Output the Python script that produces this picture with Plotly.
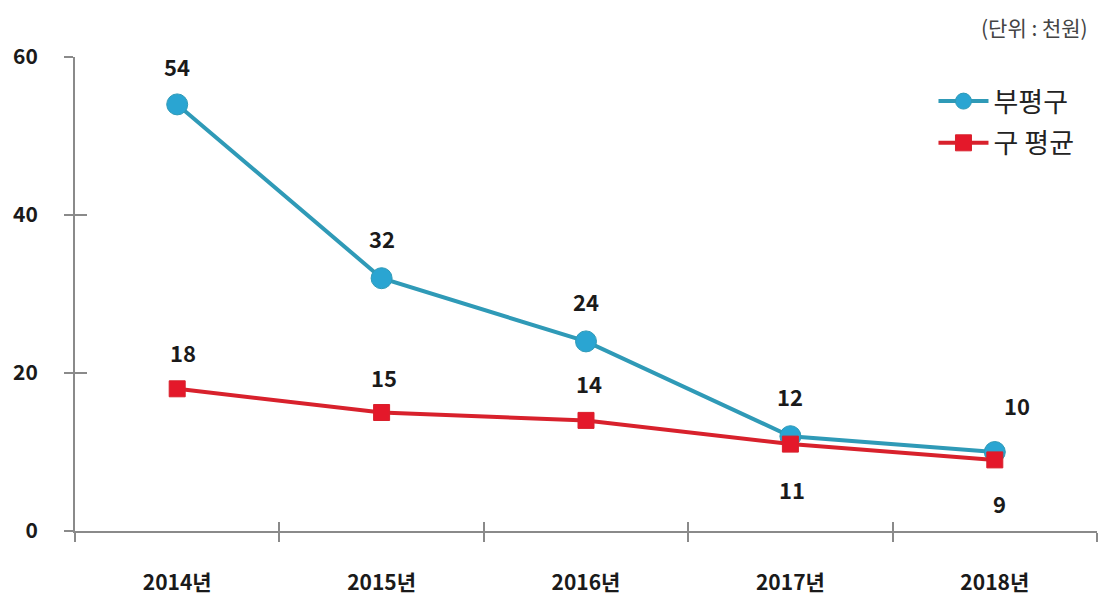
import plotly.graph_objects as go

categories = ["2014년", "2015년", "2016년", "2017년", "2018년"]
bupyeong = [54, 32, 24, 12, 10]
gu_avg = [18, 15, 14, 11, 9]
y_ticks = [0, 20, 40, 60]

FONT = "Noto Sans CJK KR"
BLUE_LINE = "#2f9ab7"
BLUE_MK = "#2aa5d2"
RED_LINE = "#d8212c"
RED_MK = "#e4182a"

fig = go.Figure()
fig.add_trace(go.Scatter(
    x=categories, y=bupyeong, name="부평구", mode="lines+markers",
    line=dict(color=BLUE_LINE, width=4),
    marker=dict(symbol="circle", size=21, color=BLUE_MK, line=dict(color=BLUE_LINE, width=1)),
    legend="legend", cliponaxis=False,
))
fig.add_trace(go.Scatter(
    x=categories, y=gu_avg, name="구 평균", mode="lines+markers",
    line=dict(color=RED_LINE, width=4),
    marker=dict(symbol="square", size=16, color=RED_MK, line=dict(color=RED_LINE, width=1)),
    legend="legend2", cliponaxis=False,
))

# cross-style ticks: second overlaid axes with inside ticks
fig.add_trace(go.Scatter(x=categories, y=bupyeong, yaxis="y2", xaxis="x2",
                         mode="markers", marker=dict(opacity=0), showlegend=False,
                         hoverinfo="skip"))

LABEL_FONT = dict(family=FONT, size=22, color="#1a1a1a", weight="bold")
TICK_FONT = dict(family=FONT, size=21, color="#1a1a1a", weight="bold")
ann = []
blue_shift = [38, 40, 40, 40, 47]
blue_x = [0, 0, 0, 0, 22]
for c, v, s, xs in zip(categories, bupyeong, blue_shift, blue_x):
    ann.append(dict(x=c, y=v, text=str(v), showarrow=False, yshift=s, xshift=xs,
                    font=LABEL_FONT))
red_shift = [37, 36, 37, -45, -43]
red_x = [6, 2, 3, 2, 5]
for c, v, s, xs in zip(categories, gu_avg, red_shift, red_x):
    ann.append(dict(x=c, y=v, text=str(v), showarrow=False, yshift=s, xshift=xs,
                    font=LABEL_FONT))
ann.append(dict(xref="paper", yref="paper", x=1.0, y=1.0, yshift=30, xshift=-7,
                xanchor="right", yanchor="middle", text="(단위 : 천원)", showarrow=False,
                font=dict(family=FONT, size=21, color="#444444")))

# page body has an 8px margin: shrink the figure and margins accordingly
fig.update_layout(
    width=1098, height=588,
    margin=dict(l=67, r=9, t=49, b=65, autoexpand=False),
    paper_bgcolor="white", plot_bgcolor="white",
    font=dict(family=FONT),
    annotations=ann,
    xaxis=dict(type="category", range=[-0.5, 4.5], showgrid=False, zeroline=False,
               showline=True, linecolor="#8a8a8a", linewidth=2, automargin=False,
               ticks="outside", ticklen=9, tickwidth=1.5, tickcolor="#8a8a8a",
               tickson="boundaries", ticklabelstandoff=32,
               tickfont=TICK_FONT),
    xaxis2=dict(type="category", range=[-0.5, 4.5], overlaying="x", showgrid=False,
                zeroline=False, showline=False, ticks="inside", ticklen=9, tickwidth=1.5,
                tickcolor="#8a8a8a", tickson="boundaries", showticklabels=False,
                anchor="y2", side="bottom", automargin=False),
    yaxis=dict(range=[0, 60], tickvals=y_ticks, showgrid=False, zeroline=False,
               showline=True, linecolor="#8a8a8a", linewidth=2, automargin=False,
               ticks="outside", ticklen=9, tickwidth=1.5, tickcolor="#8a8a8a",
               ticklabelstandoff=22,
               tickfont=TICK_FONT),
    yaxis2=dict(range=[0, 60], tickvals=y_ticks, overlaying="y", showgrid=False,
                zeroline=False, showline=False, ticks="inside", ticklen=12, tickwidth=1.5,
                tickcolor="#8a8a8a", showticklabels=False, anchor="x2", side="left",
                automargin=False),
    legend=dict(x=0.84, y=0.906, xanchor="left", yanchor="middle", bgcolor="rgba(0,0,0,0)",
                font=dict(family=FONT, size=27, color="#222222"), itemwidth=50),
    legend2=dict(x=0.84, y=0.818, xanchor="left", yanchor="middle", bgcolor="rgba(0,0,0,0)",
                 font=dict(family=FONT, size=27, color="#222222"), itemwidth=50),
    showlegend=True,
)

fig.write_html("out.html")
